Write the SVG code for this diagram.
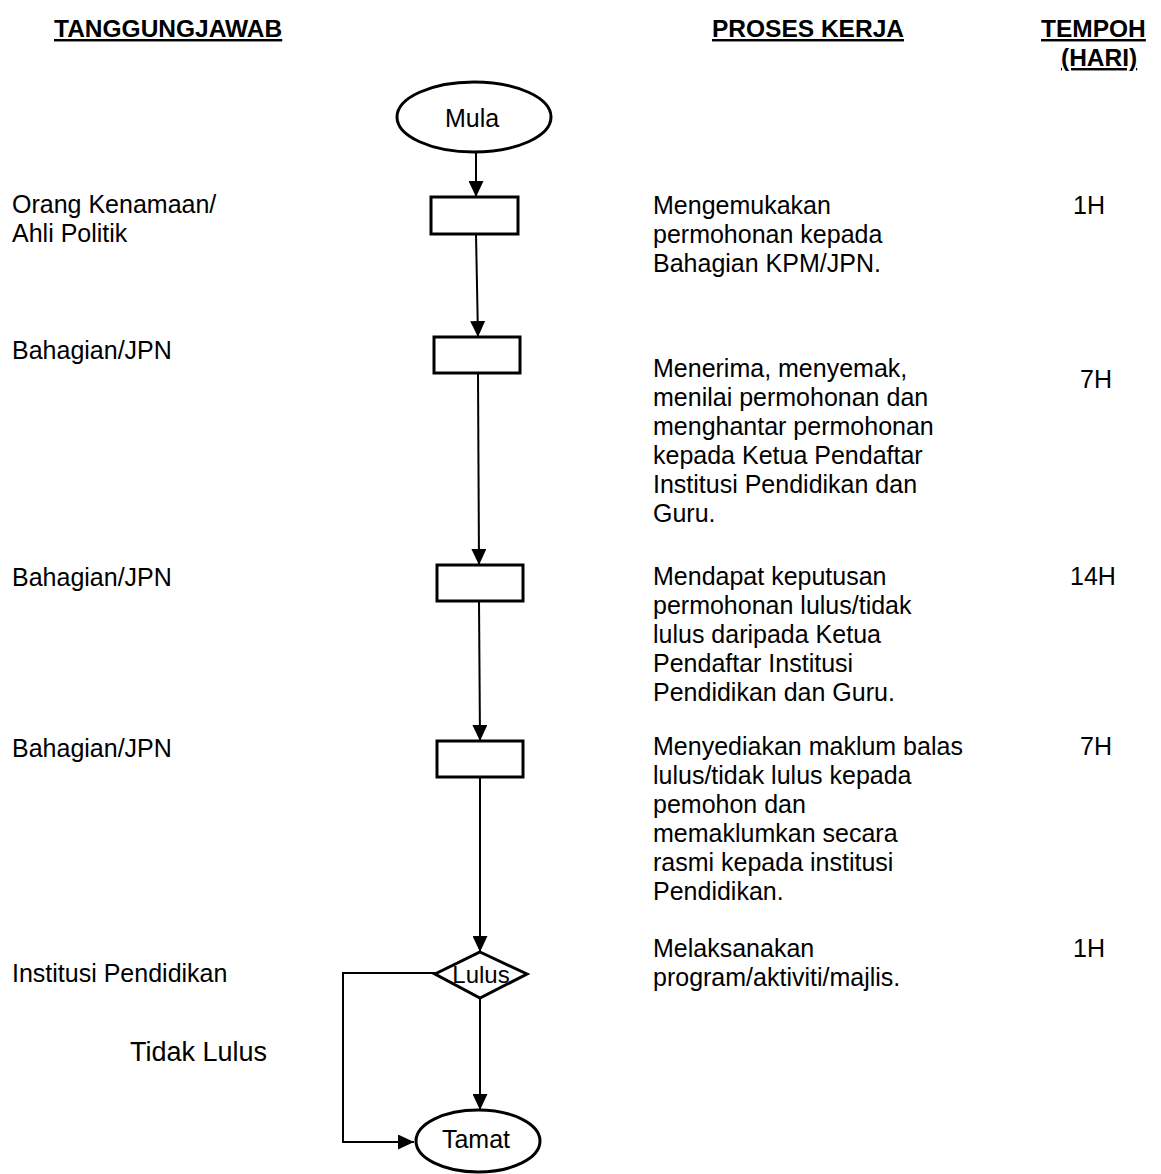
<svg xmlns="http://www.w3.org/2000/svg" width="1161" height="1174" viewBox="0 0 1161 1174">
<style>
text{font-family:"Liberation Sans",Arial,sans-serif;font-size:25px;fill:#000}
.h{font-weight:bold;font-size:24.5px;text-decoration:underline}
.c{text-anchor:middle}
.shape{fill:#fff;stroke:#000;stroke-width:3}
.conn{fill:none;stroke:#000;stroke-width:2}
</style>
<defs>
<marker id="arr" markerUnits="userSpaceOnUse" markerWidth="16" markerHeight="15" refX="16" refY="7.5" orient="auto">
<path d="M0,0 L16,7.5 L0,15 z" fill="#000"/>
</marker>
</defs>
<rect width="1161" height="1174" fill="#fff"/>
<g id="headers">
<text class="h" x="54" y="37">TANGGUNGJAWAB</text>
<text class="h" x="712" y="37">PROSES KERJA</text>
<text class="h" x="1041" y="37">TEMPOH</text>
<text class="h" x="1061" y="66">(HARI)</text>
</g>
<g id="connectors">
<line class="conn" x1="476" y1="152" x2="476" y2="197" marker-end="url(#arr)"/>
<line class="conn" x1="476" y1="234" x2="478" y2="337" marker-end="url(#arr)"/>
<line class="conn" x1="478" y1="373" x2="479" y2="565" marker-end="url(#arr)"/>
<line class="conn" x1="479" y1="601" x2="480" y2="741" marker-end="url(#arr)"/>
<line class="conn" x1="480" y1="777" x2="480" y2="952" marker-end="url(#arr)"/>
<line class="conn" x1="480" y1="998" x2="480" y2="1110" marker-end="url(#arr)"/>
<polyline class="conn" points="435,973 343,973 343,1142 414,1142" marker-end="url(#arr)"/>
</g>
<g id="mula">
<ellipse class="shape" cx="474" cy="117" rx="77" ry="35"/>
<text class="c" x="472" y="127">Mula</text>
</g>
<g id="step1">
<rect class="shape" x="431" y="197" width="87" height="37"/>
<text x="12" y="213">Orang Kenamaan/</text>
<text x="12" y="242">Ahli Politik</text>
<text x="653" y="214">Mengemukakan</text>
<text x="653" y="243">permohonan kepada</text>
<text x="653" y="272">Bahagian KPM/JPN.</text>
<text x="1073" y="214">1H</text>
</g>
<g id="step2">
<rect class="shape" x="434" y="337" width="86" height="36"/>
<text x="12" y="359">Bahagian/JPN</text>
<text x="653" y="377">Menerima, menyemak,</text>
<text x="653" y="406">menilai permohonan dan</text>
<text x="653" y="435">menghantar permohonan</text>
<text x="653" y="464">kepada Ketua Pendaftar</text>
<text x="653" y="493">Institusi Pendidikan dan</text>
<text x="653" y="522">Guru.</text>
<text x="1080" y="388">7H</text>
</g>
<g id="step3">
<rect class="shape" x="437" y="565" width="86" height="36"/>
<text x="12" y="586">Bahagian/JPN</text>
<text x="653" y="585">Mendapat keputusan</text>
<text x="653" y="614">permohonan lulus/tidak</text>
<text x="653" y="643">lulus daripada Ketua</text>
<text x="653" y="672">Pendaftar Institusi</text>
<text x="653" y="701">Pendidikan dan Guru.</text>
<text x="1070" y="585">14H</text>
</g>
<g id="step4">
<rect class="shape" x="437" y="741" width="86" height="36"/>
<text x="12" y="757">Bahagian/JPN</text>
<text x="653" y="755">Menyediakan maklum balas</text>
<text x="653" y="784">lulus/tidak lulus kepada</text>
<text x="653" y="813">pemohon dan</text>
<text x="653" y="842">memaklumkan secara</text>
<text x="653" y="871">rasmi kepada institusi</text>
<text x="653" y="900">Pendidikan.</text>
<text x="1080" y="755">7H</text>
</g>
<g id="lulus">
<polygon class="shape" points="480,952 527,974 480,998 435,974"/>
<text class="c" x="481" y="983" style="font-size:24px">Lulus</text>
<text x="12" y="982">Institusi Pendidikan</text>
<text x="653" y="957">Melaksanakan</text>
<text x="653" y="986">program/aktiviti/majlis.</text>
<text x="1073" y="957">1H</text>
</g>
<g id="tidak-lulus">
<text x="130" y="1061" style="font-size:27px">Tidak Lulus</text>
</g>
<g id="tamat">
<ellipse class="shape" cx="478" cy="1141" rx="62" ry="31"/>
<text class="c" x="476" y="1148" style="font-size:25px">Tamat</text>
</g>
</svg>
